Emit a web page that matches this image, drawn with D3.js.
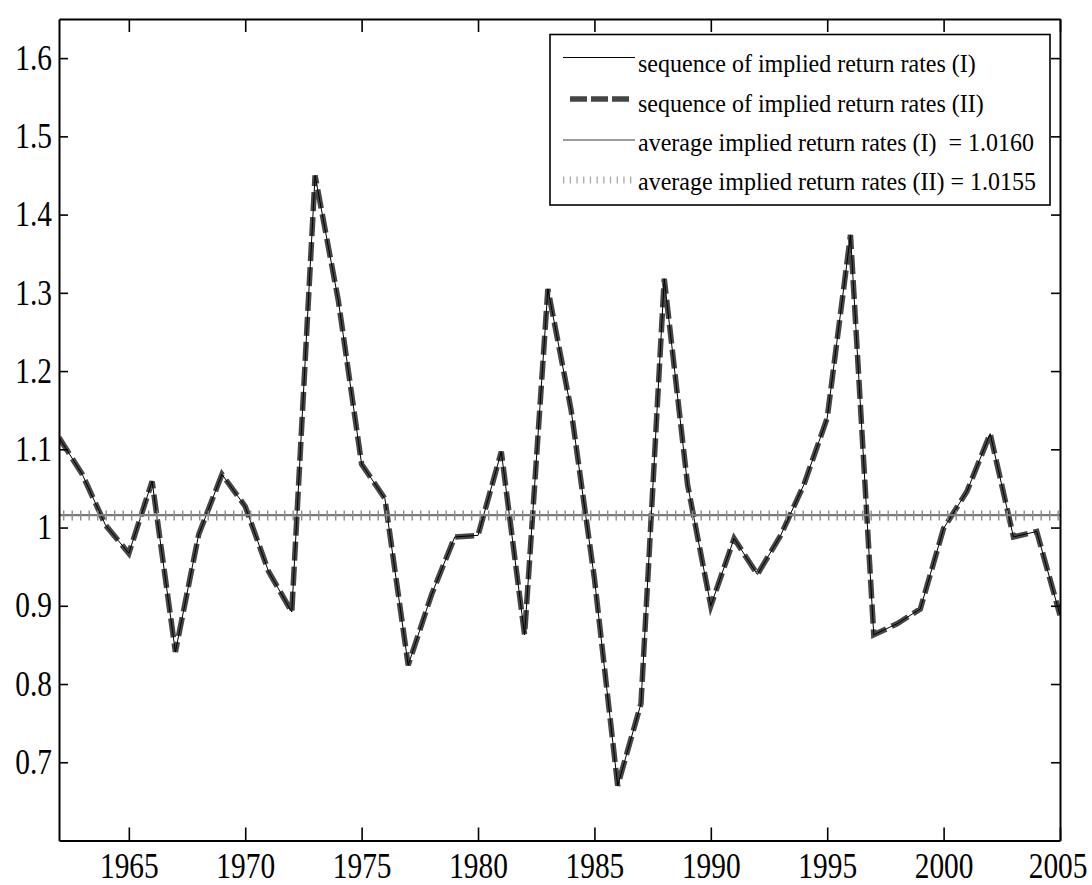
<!DOCTYPE html>
<html>
<head>
<meta charset="utf-8">
<script src="https://cdn.jsdelivr.net/npm/d3@7"></script>
<style>
  html, body { margin: 0; padding: 0; background: #fff; }
  svg { display: block; }
  text { font-family: "Liberation Serif", "Times New Roman", serif; fill: #000; }
</style>
</head>
<body>
<svg id="chart" width="1092" height="885"></svg>
<script>
// Years covered by the series
const years = d3.range(1962, 2006);

// Sequence of implied return rates, method (I)
const seriesI = [
  1.115, 1.068, 1.003, 0.967, 1.059, 0.841, 0.991, 1.068, 1.027, 0.944,
  0.892, 1.450, 1.290, 1.081, 1.037, 0.824, 0.914, 0.988, 0.990, 1.097,
  0.863, 1.305, 1.150, 0.935, 0.670, 0.775, 1.318, 1.055, 0.900, 0.986,
  0.940, 0.990, 1.055, 1.140, 1.374, 0.863, 0.877, 0.896, 0.999, 1.046,
  1.120, 0.988, 0.995, 0.888
];

// Sequence of implied return rates, method (II)
const seriesII = [
  1.115, 1.068, 1.003, 0.967, 1.059, 0.841, 0.991, 1.068, 1.027, 0.944,
  0.892, 1.450, 1.290, 1.081, 1.037, 0.824, 0.914, 0.988, 0.990, 1.097,
  0.863, 1.305, 1.150, 0.935, 0.670, 0.775, 1.318, 1.055, 0.900, 0.986,
  0.940, 0.990, 1.055, 1.140, 1.374, 0.863, 0.877, 0.896, 0.999, 1.046,
  1.120, 0.988, 0.995, 0.888
];

// Averages of the two sequences
const averages = [1.0160, 1.0155];

// Axis ticks and labels
const xTicks = [1965, 1970, 1975, 1980, 1985, 1990, 1995, 2000, 2005];
const yTicks = [0.7, 0.8, 0.9, 1.0, 1.1, 1.2, 1.3, 1.4, 1.5, 1.6];
const yTickLabels = ["0.7", "0.8", "0.9", "1", "1.1", "1.2", "1.3", "1.4", "1.5", "1.6"];

// Legend entries
const legendLabels = [
  "sequence of implied return rates (I)",
  "sequence of implied return rates (II)",
  "average implied return rates (I)  = 1.0160",
  "average implied return rates (II) = 1.0155"
];

const svg = d3.select("#chart");
const plot = { left: 59, right: 1060, top: 19, bottom: 840.5 };

const x = d3.scaleLinear().domain([1962, 2005]).range([plot.left, plot.right]);
const y = d3.scaleLinear().domain([0.6, 1.65]).range([plot.bottom, plot.top]);

// Narrow the serif glyphs horizontally, keeping each text's anchor point fixed
function condense(sel, k) {
  sel.each(function () {
    const x0 = +(this.getAttribute("x") || 0);
    this.setAttribute("x", (x0 / k).toFixed(3));
    const prev = this.getAttribute("transform") || "";
    this.setAttribute("transform", `${prev} scale(${k},1)`.trim());
  });
}

svg.append("rect").attr("width", 1092).attr("height", 885).attr("fill", "#fff");

svg.append("defs").append("clipPath").attr("id", "plotClip")
  .append("rect")
  .attr("x", plot.left).attr("y", plot.top)
  .attr("width", plot.right - plot.left).attr("height", plot.bottom - plot.top);

const g = svg.append("g").attr("clip-path", "url(#plotClip)");

const line = d3.line().x((d, i) => x(years[i])).y(d => y(d));

// Method (II): thick dashed dark grey
g.append("path").datum(seriesII)
  .attr("d", line)
  .attr("fill", "none")
  .attr("stroke", "#464646")
  .attr("stroke-width", 5.5)
  .attr("stroke-dasharray", "19,6")
  .attr("stroke-linejoin", "miter");

// Method (I): thin solid black
g.append("path").datum(seriesI)
  .attr("d", line)
  .attr("fill", "none")
  .attr("stroke", "#000")
  .attr("stroke-width", 1);

// Average (I): solid grey horizontal line
g.append("line")
  .attr("x1", x(1962)).attr("x2", x(2005))
  .attr("y1", y(averages[0])).attr("y2", y(averages[0]))
  .attr("stroke", "#7a7a7a").attr("stroke-width", 2.2);

// Average (II): grey vertical tick pattern
g.append("line")
  .attr("x1", x(1962) + 4).attr("x2", x(2005))
  .attr("y1", y(averages[1])).attr("y2", y(averages[1]))
  .attr("stroke", "#8c8c8c").attr("stroke-width", 10)
  .attr("stroke-dasharray", "1.4,7.1");

// Axes, ticks pointing inward on all four sides
const axes = svg.append("g");

const xAxis = axes.append("g")
  .attr("transform", `translate(0,${plot.bottom})`)
  .call(d3.axisBottom(x).tickValues(xTicks).tickSizeInner(-13).tickSizeOuter(0)
    .tickPadding(12.6).tickFormat(d3.format("d")));

const yAxis = axes.append("g")
  .attr("transform", `translate(${plot.left},0)`)
  .call(d3.axisLeft(y).tickValues(yTicks).tickSizeInner(-9).tickSizeOuter(0)
    .tickPadding(7).tickFormat((d, i) => yTickLabels[i]));

axes.append("g")
  .attr("transform", `translate(0,${plot.top})`)
  .call(d3.axisTop(x).tickValues(xTicks).tickSizeInner(-13).tickSizeOuter(0).tickFormat(""));

axes.append("g")
  .attr("transform", `translate(${plot.right},0)`)
  .call(d3.axisRight(y).tickValues(yTicks).tickSizeInner(-9).tickSizeOuter(0).tickFormat(""));

axes.selectAll(".domain").attr("stroke", "#000").attr("stroke-width", 2);
axes.selectAll(".tick line").attr("stroke", "#000").attr("stroke-width", 1.6);
axes.selectAll(".tick text")
  .attr("font-family", "Liberation Serif, Times New Roman, serif")
  .attr("font-size", 35)
  .attr("fill", "#000");

// The last year label sits at the right edge: anchor it by its end
xAxis.selectAll(".tick text")
  .filter(d => d === xTicks[xTicks.length - 1])
  .attr("text-anchor", "end")
  .attr("x", 27);

condense(xAxis.selectAll(".tick text"), 0.84);
condense(yAxis.selectAll(".tick text"), 0.84);

// Legend
const legend = svg.append("g");
legend.append("rect")
  .attr("x", 550).attr("y", 34.5).attr("width", 500).attr("height", 170.5)
  .attr("fill", "#fff").attr("stroke", "#000").attr("stroke-width", 1.6);

const rowLine = [57.5, 99, 140, 180];
const rowBase = [72, 112, 151.5, 190.5];

legend.append("line")
  .attr("x1", 563).attr("x2", 635).attr("y1", rowLine[0]).attr("y2", rowLine[0])
  .attr("stroke", "#000").attr("stroke-width", 1);

legend.append("line")
  .attr("x1", 570).attr("x2", 630).attr("y1", rowLine[1]).attr("y2", rowLine[1])
  .attr("stroke", "#464646").attr("stroke-width", 5.5).attr("stroke-dasharray", "17,4");

legend.append("line")
  .attr("x1", 563).attr("x2", 635).attr("y1", rowLine[2]).attr("y2", rowLine[2])
  .attr("stroke", "#7a7a7a").attr("stroke-width", 1.6);

legend.append("line")
  .attr("x1", 563).attr("x2", 636).attr("y1", rowLine[3]).attr("y2", rowLine[3])
  .attr("stroke", "#a8a8a8").attr("stroke-width", 7).attr("stroke-dasharray", "1.3,5.4");

const legendText = legend.selectAll("text.leg").data(legendLabels).join("text")
  .attr("class", "leg")
  .attr("x", 638)
  .attr("y", (d, i) => rowBase[i])
  .attr("font-size", 25)
  .attr("xml:space", "preserve")
  .style("white-space", "pre")
  .text(d => d);

condense(legendText, 0.96);
</script>
</body>
</html>
